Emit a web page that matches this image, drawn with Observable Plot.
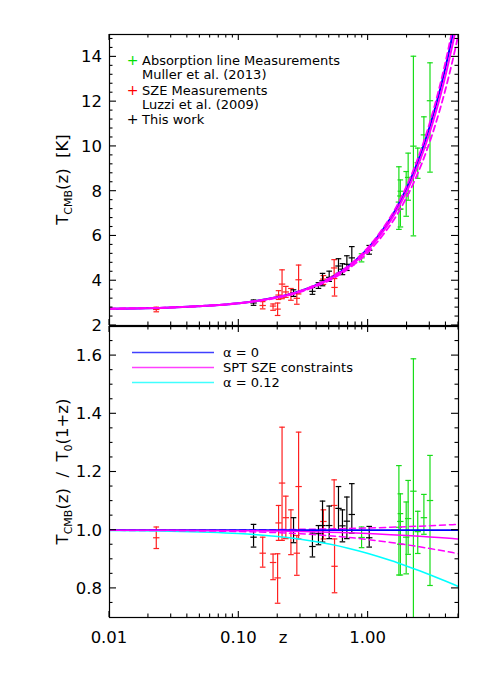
<!DOCTYPE html>
<html>
<head>
<meta charset="utf-8">
<script src="https://cdn.jsdelivr.net/npm/d3@7"></script>
<script src="https://cdn.jsdelivr.net/npm/@observablehq/plot@0.6"></script>
<style>
  html, body { margin: 0; padding: 0; background: #fff; }
  #wrap { position: relative; width: 491px; height: 687px; overflow: hidden; background: #fff; }
  #wrap svg { position: absolute; left: 0; overflow: visible; background: transparent; }
</style>
</head>
<body>
<div id="wrap"></div>
<script>
// ---------------- data ----------------
const T0 = 2.725;

// model curves: T_CMB(z) / T0(1+z)
const zGrid = [0.01, 0.03, 0.1, 0.2, 0.3, 0.5, 0.7, 1, 1.5, 2, 2.5, 3, 3.5, 4, 4.5, 5];
const ratioAlpha0   = [1, 1, 1, 1, 1, 1, 1, 1, 1, 1, 1, 1, 1, 1, 1, 1];
const ratioSPT      = [0.9998, 0.9995, 0.9984, 0.9969, 0.9955, 0.9931, 0.9910, 0.9883, 0.9845, 0.9815, 0.9789, 0.9767, 0.9748, 0.9730, 0.9714, 0.9700];
const ratioSPTup    = [1.0001, 1.0003, 1.0010, 1.0020, 1.0029, 1.0045, 1.0059, 1.0077, 1.0101, 1.0122, 1.0139, 1.0154, 1.0167, 1.0179, 1.0189, 1.0199];
const ratioSPTdown  = [0.9995, 0.9986, 0.9955, 0.9915, 0.9878, 0.9811, 0.9754, 0.9679, 0.9578, 0.9497, 0.9428, 0.9369, 0.9318, 0.9272, 0.9230, 0.9192];
const ratioAlpha012 = [0.9988, 0.9965, 0.9886, 0.9784, 0.9690, 0.9525, 0.9383, 0.9202, 0.8959, 0.8765, 0.8604, 0.8467, 0.8349, 0.8244, 0.8150, 0.8065];

// SZE measurements (Luzzi et al. 2009) — ratio, lower, upper
const redZ  = [0.023, 0.153, 0.184, 0.1995, 0.203, 0.216, 0.231, 0.253, 0.281, 0.290, 0.451, 0.546, 0.550];
const redR  = [0.974, 0.921, 0.889, 0.836, 1.025, 1.162, 1.043, 1.000, 0.921, 1.150, 1.030, 1.085, 0.876];
const redLo = [0.937, 0.873, 0.830, 0.749, 0.965, 0.965, 0.971, 0.916, 0.845, 0.970, 0.970, 1.000, 0.785];
const redHi = [1.011, 0.976, 0.918, 0.919, 1.085, 1.354, 1.117, 1.070, 0.982, 1.337, 1.070, 1.173, 0.970];

// This work
const blackZ  = [0.13, 0.265, 0.371, 0.413, 0.444, 0.50, 0.59, 0.633, 0.685, 0.748, 1.02];
const blackR  = [0.976, 1.000, 0.944, 0.988, 1.016, 1.016, 1.075, 1.015, 1.031, 1.054, 0.974];
const blackLo = [0.942, 0.957, 0.908, 0.950, 0.959, 0.971, 1.000, 0.960, 0.971, 0.990, 0.942];
const blackHi = [1.020, 1.043, 0.990, 1.016, 1.100, 1.083, 1.150, 1.070, 1.114, 1.160, 1.013];

// Absorption line measurements (Muller et al. 2013)
const greenZ  = [0.89, 1.73, 1.774, 1.777, 1.97, 2.04, 2.24, 2.42, 2.70, 3.01];
const greenR  = [0.975, 1.010, 1.030, 0.952, 0.976, 1.040, 1.134, 0.995, 1.043, 1.102];
const greenLo = [0.940, 0.846, 0.951, 0.846, 0.850, 0.917, 0.680, 0.920, 0.986, 0.810];
const greenHi = [1.011, 1.222, 1.125, 1.057, 1.097, 1.171, 1.589, 1.065, 1.123, 1.257];

// tick labels
const xTickVals = [0.01, 0.1, 1];
const xTickLabels = ["0.01", "0.10", "1.00"];
const yTopTicks = [2, 4, 6, 8, 10, 12, 14];
const yBotTicks = [0.8, 1.0, 1.2, 1.4, 1.6];
const yBotLabels = ["0.8", "1.0", "1.2", "1.4", "1.6"];

// ---------------- build rows ----------------
const curveRows = arr => zGrid.map((z, i) => ({z, r: arr[i], t: T0 * (1 + z) * arr[i]}));
const pointRows = (zs, rs, los, his) => zs.map((z, i) => ({
  z, r: rs[i], lo: los[i], hi: his[i],
  t: T0 * (1 + z) * rs[i], tlo: T0 * (1 + z) * los[i], thi: T0 * (1 + z) * his[i]
}));

const RED = "#ff2020", GREEN = "#18dd18", BLACK = "#000000";
const BLUE = "#0000ff", MAG = "#ff00ff", CYAN = "#00ffff";

const red = pointRows(redZ, redR, redLo, redHi);
const black = pointRows(blackZ, blackR, blackLo, blackHi);
const green = pointRows(greenZ, greenR, greenLo, greenHi);

const hbar = {draw(ctx, size) { const w = Math.sqrt(size / Math.PI); ctx.moveTo(-w, 0); ctx.lineTo(w, 0); }};

function errMarks(rows, color, yk, lok, hik) {
  const common = {x: "z", stroke: color, strokeWidth: 1.2, clip: true};
  return [
    Plot.ruleX(rows, {...common, y1: lok, y2: hik}),
    Plot.dot(rows, {...common, y: lok, symbol: hbar, r: 2.8, fill: "none"}),
    Plot.dot(rows, {...common, y: hik, symbol: hbar, r: 2.8, fill: "none"}),
    Plot.dot(rows, {...common, y: yk, symbol: hbar, r: 3.2, fill: "none"})
  ];
}

const FONT = "'DejaVu Sans', sans-serif";
const xOpts = {type: "log", domain: [0.01, 5], axis: null};

// ---------------- top panel ----------------
const topPlot = Plot.plot({
  width: 491, height: 326,
  marginLeft: 109, marginRight: 33, marginTop: 34, marginBottom: 1,
  x: xOpts,
  y: {domain: [2, 15], axis: null},
  marks: [
    ...errMarks(red, RED, "t", "tlo", "thi"),
    ...errMarks(black, BLACK, "t", "tlo", "thi"),
    ...errMarks(green, GREEN, "t", "tlo", "thi"),
    Plot.line(curveRows(ratioAlpha0), {x: "z", y: "t", stroke: BLUE, strokeWidth: 2, curve: "catmull-rom", clip: true}),
    Plot.line(curveRows(ratioSPTup), {x: "z", y: "t", stroke: MAG, strokeWidth: 1.8, strokeDasharray: "6,4", curve: "catmull-rom", clip: true}),
    Plot.line(curveRows(ratioSPTdown), {x: "z", y: "t", stroke: MAG, strokeWidth: 1.8, strokeDasharray: "6,4", curve: "catmull-rom", clip: true}),
    Plot.line(curveRows(ratioSPT), {x: "z", y: "t", stroke: MAG, strokeWidth: 2, curve: "catmull-rom", clip: true}),
    Plot.frame({stroke: "#000", strokeWidth: 1.2})
  ]
});
topPlot.style.top = "0px";

// ---------------- bottom panel ----------------
const botPlot = Plot.plot({
  width: 491, height: 362,
  marginLeft: 109, marginRight: 33, marginTop: 1, marginBottom: 70,
  x: xOpts,
  y: {domain: [0.7, 1.7], axis: null},
  marks: [
    ...errMarks(red, RED, "r", "lo", "hi"),
    ...errMarks(black, BLACK, "r", "lo", "hi"),
    ...errMarks(green, GREEN, "r", "lo", "hi"),
    Plot.line(curveRows(ratioAlpha012), {x: "z", y: "r", stroke: CYAN, strokeWidth: 1.6, curve: "catmull-rom", clip: true}),
    Plot.line(curveRows(ratioSPTup), {x: "z", y: "r", stroke: MAG, strokeWidth: 1.5, strokeDasharray: "6,4", curve: "catmull-rom", clip: true}),
    Plot.line(curveRows(ratioSPTdown), {x: "z", y: "r", stroke: MAG, strokeWidth: 1.5, strokeDasharray: "6,4", curve: "catmull-rom", clip: true}),
    Plot.line(curveRows(ratioAlpha0), {x: "z", y: "r", stroke: BLUE, strokeWidth: 1.8, curve: "catmull-rom", clip: true}),
    Plot.line(curveRows(ratioSPT), {x: "z", y: "r", stroke: MAG, strokeWidth: 1.5, curve: "catmull-rom", clip: true}),
    Plot.frame({stroke: "#000", strokeWidth: 1.2})
  ]
});
botPlot.style.top = "325px";

const wrap = document.getElementById("wrap");
wrap.appendChild(topPlot);
wrap.appendChild(botPlot);

// ---------------- axes / ticks (inward, IDL style) ----------------
const xMinor = [];
for (const d of [0.01, 0.1, 1]) for (let k = 2; k <= 9; k++) { const v = d * k; if (v <= 5) xMinor.push(v); }

function ticks(plot, yMajor, yMinor) {
  const sx = plot.scale("x"), sy = plot.scale("y");
  const [x0, x1] = sx.range;
  const yb = Math.max(...sy.range), yt = Math.min(...sy.range);
  const g = d3.select(plot).append("g").attr("stroke", "#000").attr("stroke-width", 1.1);
  const seg = (xa, ya, xb, yb2) => g.append("line").attr("x1", xa).attr("y1", ya).attr("x2", xb).attr("y2", yb2);
  for (const v of xTickVals) { const x = sx.apply(v); seg(x, yb, x, yb - 6); seg(x, yt, x, yt + 6); }
  for (const v of xMinor) { const x = sx.apply(v); seg(x, yb, x, yb - 3.5); seg(x, yt, x, yt + 3.5); }
  for (const v of yMajor) { const y = sy.apply(v); seg(x0, y, x0 + 7, y); seg(x1, y, x1 - 7, y); }
  for (const v of yMinor) { const y = sy.apply(v); seg(x0, y, x0 + 3.5, y); seg(x1, y, x1 - 3.5, y); }
  return {sx, sy, x0, x1, yb, yt};
}

const topMinor = [];
for (let v = 2.4; v < 15; v += 0.4) { const r = Math.round(v * 10) / 10; if (!yTopTicks.includes(r)) topMinor.push(r); }
const botMinor = [];
for (let v = 0.75; v < 1.7; v += 0.05) { const r = Math.round(v * 100) / 100; if (!yBotTicks.some(t => Math.abs(t - r) < 1e-6)) botMinor.push(r); }

const T = ticks(topPlot, yTopTicks, topMinor);
const B = ticks(botPlot, yBotTicks, botMinor);

const tsvg = d3.select(topPlot), bsvg = d3.select(botPlot);

// y tick labels
for (const v of yTopTicks) {
  tsvg.append("text").attr("x", 102).attr("y", T.sy.apply(v)).attr("dy", "0.36em")
    .attr("text-anchor", "end").style("font", `16.5px ${FONT}`).attr("fill", "#000").text(String(v));
}
yBotTicks.forEach((v, i) => {
  bsvg.append("text").attr("x", 102).attr("y", B.sy.apply(v)).attr("dy", "0.36em")
    .attr("text-anchor", "end").style("font", `16.5px ${FONT}`).attr("fill", "#000").text(yBotLabels[i]);
});
// x tick labels
xTickVals.forEach((v, i) => {
  bsvg.append("text").attr("x", B.sx.apply(v)).attr("y", 318).attr("text-anchor", "middle")
    .style("font", `16.5px ${FONT}`).attr("fill", "#000").text(xTickLabels[i]);
});
bsvg.append("text").attr("x", 283).attr("y", 318).attr("text-anchor", "middle")
  .style("font", `16.5px ${FONT}`).attr("fill", "#000").text("z");

// y axis titles
function yTitle(svg, cy, parts) {
  const t = svg.append("text").attr("transform", `translate(68,${cy}) rotate(-90)`)
    .attr("text-anchor", "middle").style("font", `16.5px ${FONT}`).attr("fill", "#000")
    .attr("xml:space", "preserve");
  for (const p of parts) {
    const s = t.append("tspan").text(p.text);
    if (p.sub) s.attr("font-size", 11).attr("dy", p.dy);
    else if (p.dy) s.attr("dy", p.dy);
  }
}
yTitle(tsvg, (T.yb + T.yt) / 2, [
  {text: "T"}, {text: "CMB", sub: true, dy: 4}, {text: "(z)\u00a0\u00a0[K]", dy: -4}
]);
yTitle(bsvg, (B.yb + B.yt) / 2, [
  {text: "T"}, {text: "CMB", sub: true, dy: 4}, {text: "(z)\u00a0\u00a0/\u00a0\u00a0T", dy: -4},
  {text: "0", sub: true, dy: 4}, {text: "(1+z)", dy: -4}
]);

// top legend
const topLegend = [
  {sym: "+", color: "#00e000", text: "Absorption line Measurements"},
  {sym: "", color: "#000", text: "Muller et al. (2013)"},
  {sym: "+", color: "#ff0000", text: "SZE Measurements"},
  {sym: "", color: "#000", text: "Luzzi et al. (2009)"},
  {sym: "+", color: "#000", text: "This work"}
];
const legY = [64.5, 78.5, 95, 109, 124];
topLegend.forEach((d, i) => {
  if (d.sym) tsvg.append("text").attr("x", 132.5).attr("y", legY[i]).attr("text-anchor", "middle")
    .style("font", `14px ${FONT}`).attr("fill", d.color).text(d.sym);
  tsvg.append("text").attr("x", 142).attr("y", legY[i]).attr("text-anchor", "start")
    .style("font", `13px ${FONT}`).attr("fill", "#000").text(d.text);
});

// bottom legend
const botLegend = [
  {color: BLUE, text: "\u03b1 = 0"},
  {color: MAG, text: "SPT SZE constraints"},
  {color: CYAN, text: "\u03b1 = 0.12"}
];
const bLegY = [352.5 - 325, 367.5 - 325, 382.5 - 325];
botLegend.forEach((d, i) => {
  bsvg.append("line").attr("x1", 132).attr("x2", 214).attr("y1", bLegY[i]).attr("y2", bLegY[i])
    .attr("stroke", d.color).attr("stroke-width", 1.6).attr("stroke-opacity", 0.75);
  bsvg.append("text").attr("x", 223).attr("y", bLegY[i]).attr("dy", "0.36em").attr("text-anchor", "start")
    .style("font", `13px ${FONT}`).attr("fill", "#000").attr("xml:space", "preserve").text(d.text);
});
</script>
</body>
</html>
